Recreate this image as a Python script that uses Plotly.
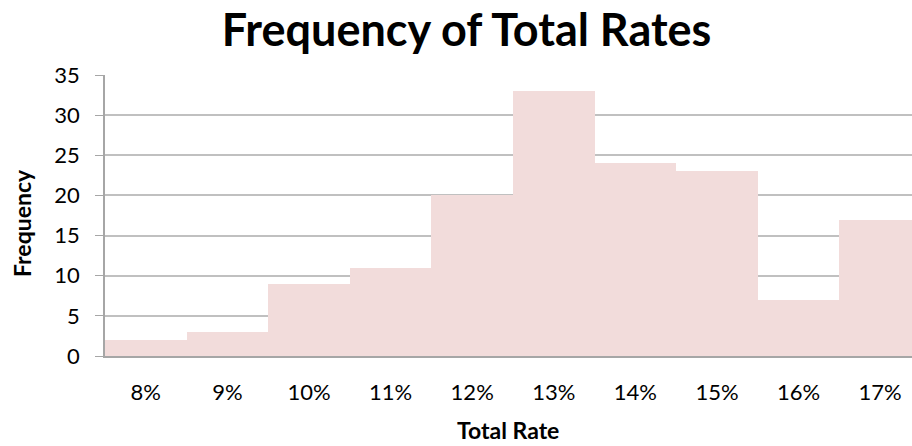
import plotly.graph_objects as go

categories = ["8%", "9%", "10%", "11%", "12%", "13%", "14%", "15%", "16%", "17%"]
frequency = [2, 3, 9, 11, 20, 33, 24, 23, 7, 17]

FONT = "Lato, 'Open Sans', sans-serif"

fig = go.Figure(go.Bar(
    x=list(range(len(categories))),
    y=frequency,
    marker=dict(color="#f2dcdb", line=dict(width=0)),
    width=1.0,
))

fig.update_layout(
    width=912, height=446,
    margin=dict(l=105, r=0, t=75, b=90),
    paper_bgcolor="white", plot_bgcolor="white",
    bargap=0,
    showlegend=False,
    title=dict(text="<b>Frequency of Total Rates</b>", x=0.5115, xanchor="center",
               xref="container", yref="container",
               y=0.933, yanchor="middle",
               font=dict(family=FONT, size=45, color="black")),
    font=dict(family=FONT, color="black"),
    xaxis=dict(
        tickmode="array", tickvals=list(range(len(categories))), ticktext=categories,
        range=[-0.5, 9.39],
        showgrid=False, showline=True, linecolor="#a6a6a6", linewidth=1.5,
        ticks="", tickfont=dict(size=22), ticklabelstandoff=16,
        zeroline=False,
    ),
    yaxis=dict(
        range=[0, 35], tickmode="linear", tick0=0, dtick=5,
        showgrid=True, gridcolor="#c0c0c0", gridwidth=1.5,
        showline=True, linecolor="#a6a6a6", linewidth=1.5,
        ticks="outside", ticklen=8, tickcolor="#a6a6a6",
        tickfont=dict(size=22), ticklabelstandoff=11,
        zeroline=False,
    ),
    annotations=[
        dict(text="<b>Total Rate</b>", xref="paper", yref="paper",
             x=0.4994, y=-0.263, xanchor="center", yanchor="middle",
             showarrow=False, font=dict(family=FONT, size=23, color="black")),
        dict(text="<b>Frequency</b>", xref="paper", yref="paper",
             x=-0.103, y=0.473, xanchor="center", yanchor="middle",
             textangle=-90, showarrow=False,
             font=dict(family=FONT, size=23, color="black")),
    ],
)

fig.write_html("out.html",
               config={"displayModeBar": False},
               post_script="document.body.style.margin='0';document.body.style.overflow='hidden';")
